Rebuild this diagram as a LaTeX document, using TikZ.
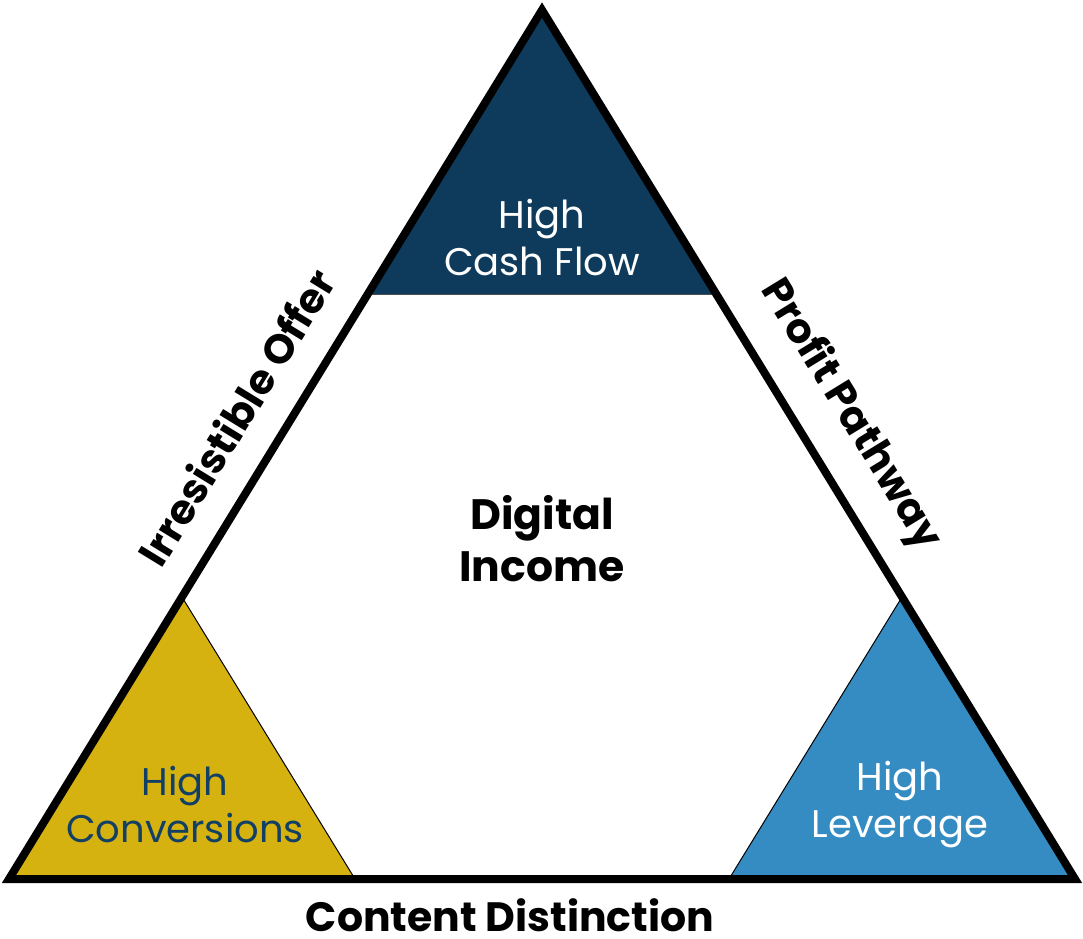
\documentclass[tikz,border=0pt]{standalone}
\usepackage{fontspec}
\setmainfont{Poppins}
\definecolor{navy}{RGB}{14,59,92}
\definecolor{gold}{RGB}{214,178,17}
\definecolor{sky}{RGB}{53,140,194}
\definecolor{navytext}{RGB}{18,63,100}
\begin{document}
\begin{tikzpicture}[x=1pt,y=-1pt,
  lbl/.style={align=center,font=\fontsize{38.5}{47}\selectfont},
  bold/.style={align=center,font=\fontsize{42.5}{52}\selectfont\bfseries},
  edge/.style={inner sep=0pt,font=\fontsize{41}{46}\selectfont\bfseries}]
\useasboundingbox (0,0) rectangle (1083,938);
\coordinate (A) at (542,10);
\coordinate (L) at (9,879);
\coordinate (R) at (1075,879);
% fills
\fill[white] (A) -- (L) -- (R) -- cycle;
\fill[navy] (A) -- (367.8,294) -- (716.2,294) -- cycle;
\draw[black!70,line width=0.8pt] (367.8,294) -- (716.2,294);
\filldraw[fill=gold,draw=black,line width=1pt] (L) -- (182,597) -- (355,879) -- cycle;
\filldraw[fill=sky,draw=black,line width=1pt] (R) -- (902,597) -- (729,879) -- cycle;
% outer triangle
\draw[line width=8pt,line join=miter,miter limit=10] (A) -- (L) -- (R) -- cycle;
% labels
\node[lbl,text=white] (cash) at (542,238) {High\\Cash Flow};
\node[bold] (inc) at (542,539) {Digital\\Income};
\node[lbl,text=navytext] (conv) at (185,805) {High\\Conversions};
\node[lbl,text=white] (lev) at (900,805) {High\\Leverage};
\node[edge,anchor=base] (cd) at (510,931) {Content Distinction};
\node[edge,rotate=58.5] (io) at (236,417) {Irresistible Offer};
\node[edge,rotate=-58.5] (pp) at (850,415) {Profit Pathway};
\end{tikzpicture}
\end{document}
